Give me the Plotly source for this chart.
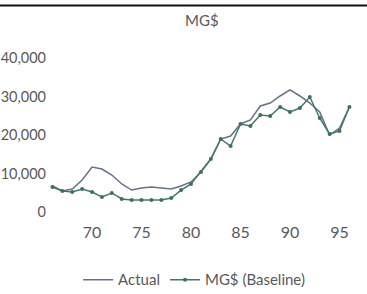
import plotly.graph_objects as go

years = list(range(66, 97))
actual = [6750, 5450, 5970, 8300, 11700, 11170, 9600, 7270, 5700, 6230,
          6500, 6230, 5970, 6750, 7800, 10400, 13770, 18960, 19740, 22860,
          23900, 27530, 28300, 30130, 31700, 30130, 28300, 25970, 20000, 21800, 27270]
baseline = [6500, 5450, 5200, 5970, 5200, 3900, 4940, 3380, 3120, 3120,
            3120, 3120, 3640, 5700, 7270, 10400, 13770, 18960, 17140, 22860,
            22340, 25200, 24940, 27270, 25970, 27000, 29870, 24420, 20260, 21040, 27270]
x_ticks = [70, 75, 80, 85, 90, 95]
y_ticks = [0, 10000, 20000, 30000, 40000]

FONT = "Lato, 'Open Sans', sans-serif"

fig = go.Figure()
fig.add_trace(go.Scatter(x=years, y=actual, mode="lines", name="Actual",
                         line=dict(color="#667088", width=1.5)))
fig.add_trace(go.Scatter(x=years, y=baseline, mode="lines+markers", name="MG$ (Baseline)",
                         line=dict(color="#3f7a6e", width=1.5),
                         marker=dict(size=4, color="#3f6e64")))

fig.update_layout(
    width=367, height=294,
    margin=dict(l=47, r=7, t=45, b=82),
    paper_bgcolor="white", plot_bgcolor="white",
    font=dict(family=FONT, color="#595959", size=15),
    title=dict(text="MG$", x=0.55, xanchor="center", y=0.93, yanchor="middle",
               font=dict(size=15, color="#595959", family=FONT)),
    xaxis=dict(range=[65.45, 97.07], tickvals=x_ticks, ticktext=[str(v) for v in x_ticks],
               showgrid=False, zeroline=False, showline=False,
               ticks="outside", ticklen=6, tickcolor="rgba(0,0,0,0)",
               tickfont=dict(size=16, color="#595959"), automargin=False),
    yaxis=dict(range=[0, 43377], tickvals=y_ticks, tickformat=",",
               showgrid=False, zeroline=False, showline=False, ticks="",
               tickfont=dict(size=14.5, color="#595959"), automargin=False),
    legend=dict(orientation="h", x=0.47, xanchor="center",
                yref="container", y=0.048, yanchor="middle",
                font=dict(size=15, color="#595959")),
    shapes=[dict(type="line", xref="paper", yref="paper", x0=-0.2, x1=1.1,
                 y0=(212 - 5.5) / 167, y1=(212 - 5.5) / 167,
                 line=dict(color="#111111", width=2))],
)

fig.write_html("out.html", config={"displayModeBar": False},
               post_script="document.body.style.margin='0';")
